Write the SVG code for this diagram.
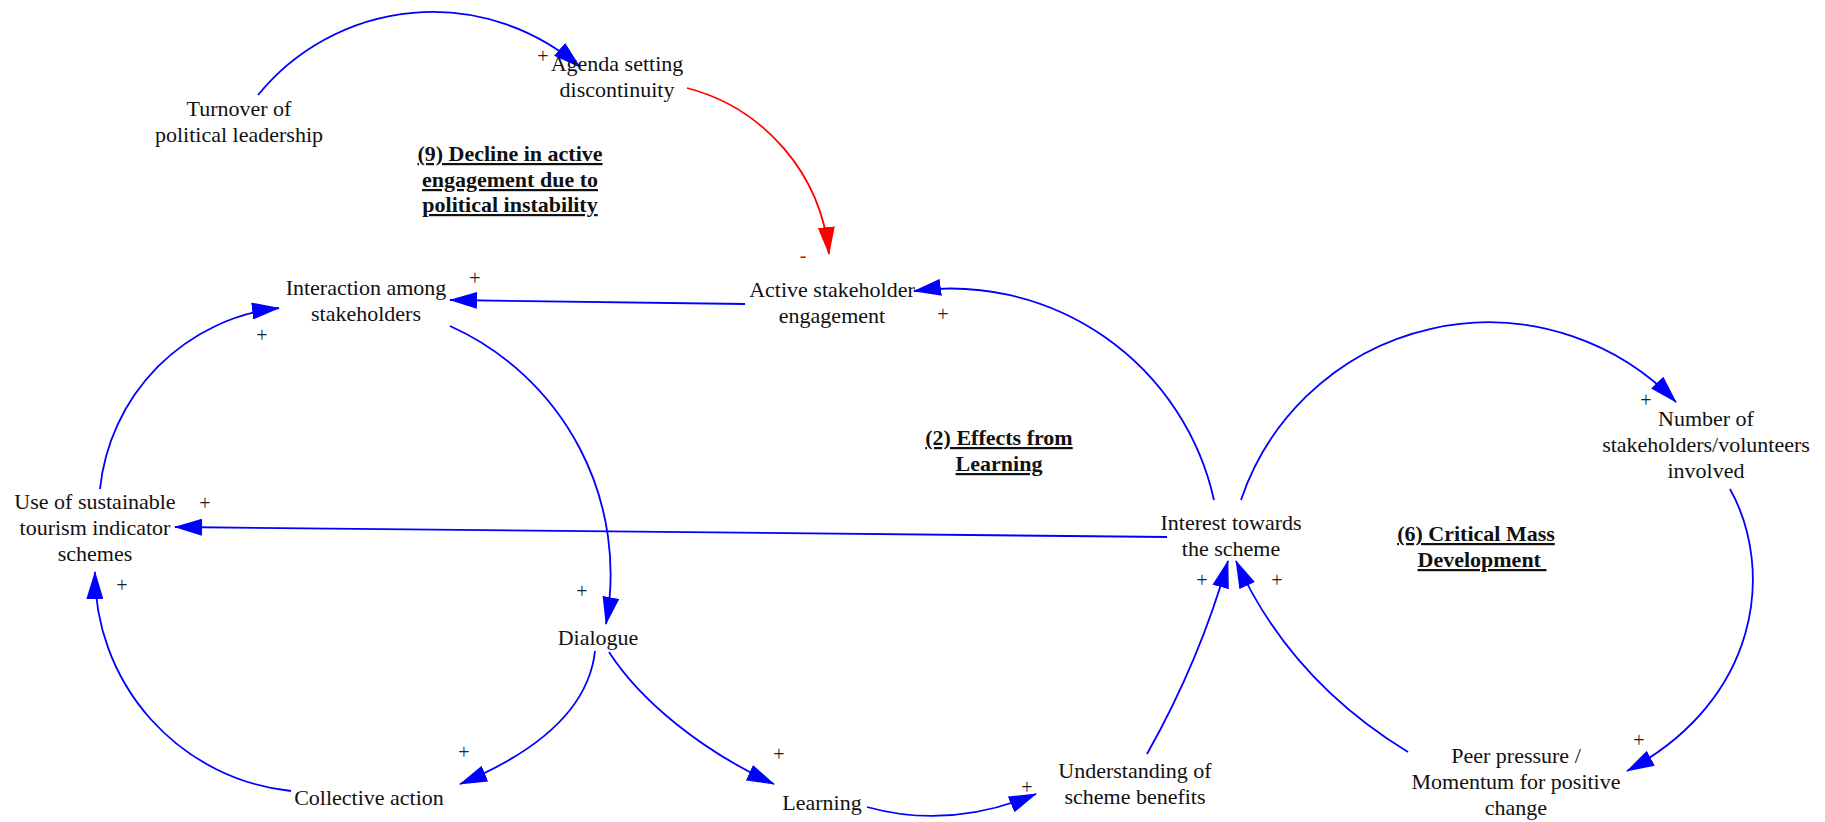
<svg xmlns="http://www.w3.org/2000/svg" width="1825" height="822" viewBox="0 0 1825 822">
<style>
text{font-family:"Liberation Serif","Times New Roman",serif;font-size:22px;fill:#111;text-anchor:middle}
.t{font-weight:bold;text-decoration:underline;white-space:pre}
.p{font-size:20px;fill:#222}
.m{font-size:20px;fill:#f00}
.b{fill:none;stroke:#0000ff;stroke-width:1.8}
.r{fill:none;stroke:#ff0000;stroke-width:1.8}
</style>
<defs>
<marker id="ab" markerUnits="userSpaceOnUse" markerWidth="28" markerHeight="17" refX="27" refY="8.5" orient="auto"><path d="M0,0 L28,8.5 L0,17 z" fill="#0000ff"/></marker>
<marker id="ar" markerUnits="userSpaceOnUse" markerWidth="28" markerHeight="17" refX="27" refY="8.5" orient="auto"><path d="M0,0 L28,8.5 L0,17 z" fill="#ff0000"/></marker>
</defs>
<rect width="1825" height="822" fill="#fff"/>
<g id="connectors">
<path class="b" marker-end="url(#ab)" d="M258,95 A225,225 0 0 1 580,67"/>
<path class="r" marker-end="url(#ar)" d="M687,88 A191,191 0 0 1 829,254"/>
<path class="b" marker-end="url(#ab)" d="M745,304 L450,300"/>
<path class="b" marker-end="url(#ab)" d="M1214,500 A270,270 0 0 0 914,291"/>
<path class="b" marker-end="url(#ab)" d="M450,326 A272,272 0 0 1 606,624"/>
<path class="b" marker-end="url(#ab)" d="M595,651 C588,715 525,757 460,784"/>
<path class="b" marker-end="url(#ab)" d="M609,652 C640,700 700,750 774,784"/>
<path class="b" marker-end="url(#ab)" d="M867,807 Q950,830 1036,794"/>
<path class="b" marker-end="url(#ab)" d="M1147,754 Q1200,660 1228,561"/>
<path class="b" marker-end="url(#ab)" d="M1408,752 Q1290,680 1236,561"/>
<path class="b" marker-end="url(#ab)" d="M1241,500 A261,261 0 0 1 1676,402"/>
<path class="b" marker-end="url(#ab)" d="M1730,489 C1775,570 1760,700 1627,771"/>
<path class="b" marker-end="url(#ab)" d="M1167,537 L175,527"/>
<path class="b" marker-end="url(#ab)" d="M100,489 A203,203 0 0 1 279,308"/>
<path class="b" marker-end="url(#ab)" d="M291,791 A219,219 0 0 1 95,572"/>
</g>
<g id="polarity">
<text class="p" x="543" y="63">+</text>
<text class="m" x="803" y="262">-</text>
<text class="p" x="475" y="285">+</text>
<text class="p" x="262" y="342">+</text>
<text class="p" x="943" y="321">+</text>
<text class="p" x="205" y="510">+</text>
<text class="p" x="122" y="592">+</text>
<text class="p" x="582" y="598">+</text>
<text class="p" x="464" y="759">+</text>
<text class="p" x="779" y="761">+</text>
<text class="p" x="1027" y="794">+</text>
<text class="p" x="1202" y="587">+</text>
<text class="p" x="1277" y="587">+</text>
<text class="p" x="1646" y="407">+</text>
<text class="p" x="1639" y="747">+</text>
</g>
<g id="n-turnover"><text x="239" y="116">Turnover of</text><text x="239" y="142">political leadership</text></g>
<g id="n-agenda"><text x="617" y="71">Agenda setting</text><text x="617" y="97">discontinuity</text></g>
<g id="title9"><text class="t" x="510" y="161">(9) Decline in active</text><text class="t" x="510" y="187">engagement due to</text><text class="t" x="510" y="212">political instability</text></g>
<g id="n-active"><text x="832" y="297">Active stakeholder</text><text x="832" y="323">engagement</text></g>
<g id="n-interaction"><text x="366" y="295">Interaction among</text><text x="366" y="321">stakeholders</text></g>
<g id="n-use"><text x="95" y="509">Use of sustainable</text><text x="95" y="535">tourism indicator</text><text x="95" y="561">schemes</text></g>
<g id="n-dialogue"><text x="598" y="645">Dialogue</text></g>
<g id="n-collective"><text x="369" y="805">Collective action</text></g>
<g id="n-learning"><text x="822" y="810">Learning</text></g>
<g id="n-understanding"><text x="1135" y="778">Understanding of</text><text x="1135" y="804">scheme benefits</text></g>
<g id="n-interest"><text x="1231" y="530">Interest towards</text><text x="1231" y="556">the scheme</text></g>
<g id="title2"><text class="t" x="999" y="445">(2) Effects from</text><text class="t" x="999" y="471">Learning</text></g>
<g id="n-number"><text x="1706" y="426">Number of</text><text x="1706" y="452">stakeholders/volunteers</text><text x="1706" y="478">involved</text></g>
<g id="title6"><text class="t" x="1476" y="541">(6) Critical Mass</text><text class="t" x="1482" y="567">Development </text></g>
<g id="n-peer"><text x="1516" y="763">Peer pressure /</text><text x="1516" y="789">Momentum for positive</text><text x="1516" y="815">change</text></g>
</svg>
